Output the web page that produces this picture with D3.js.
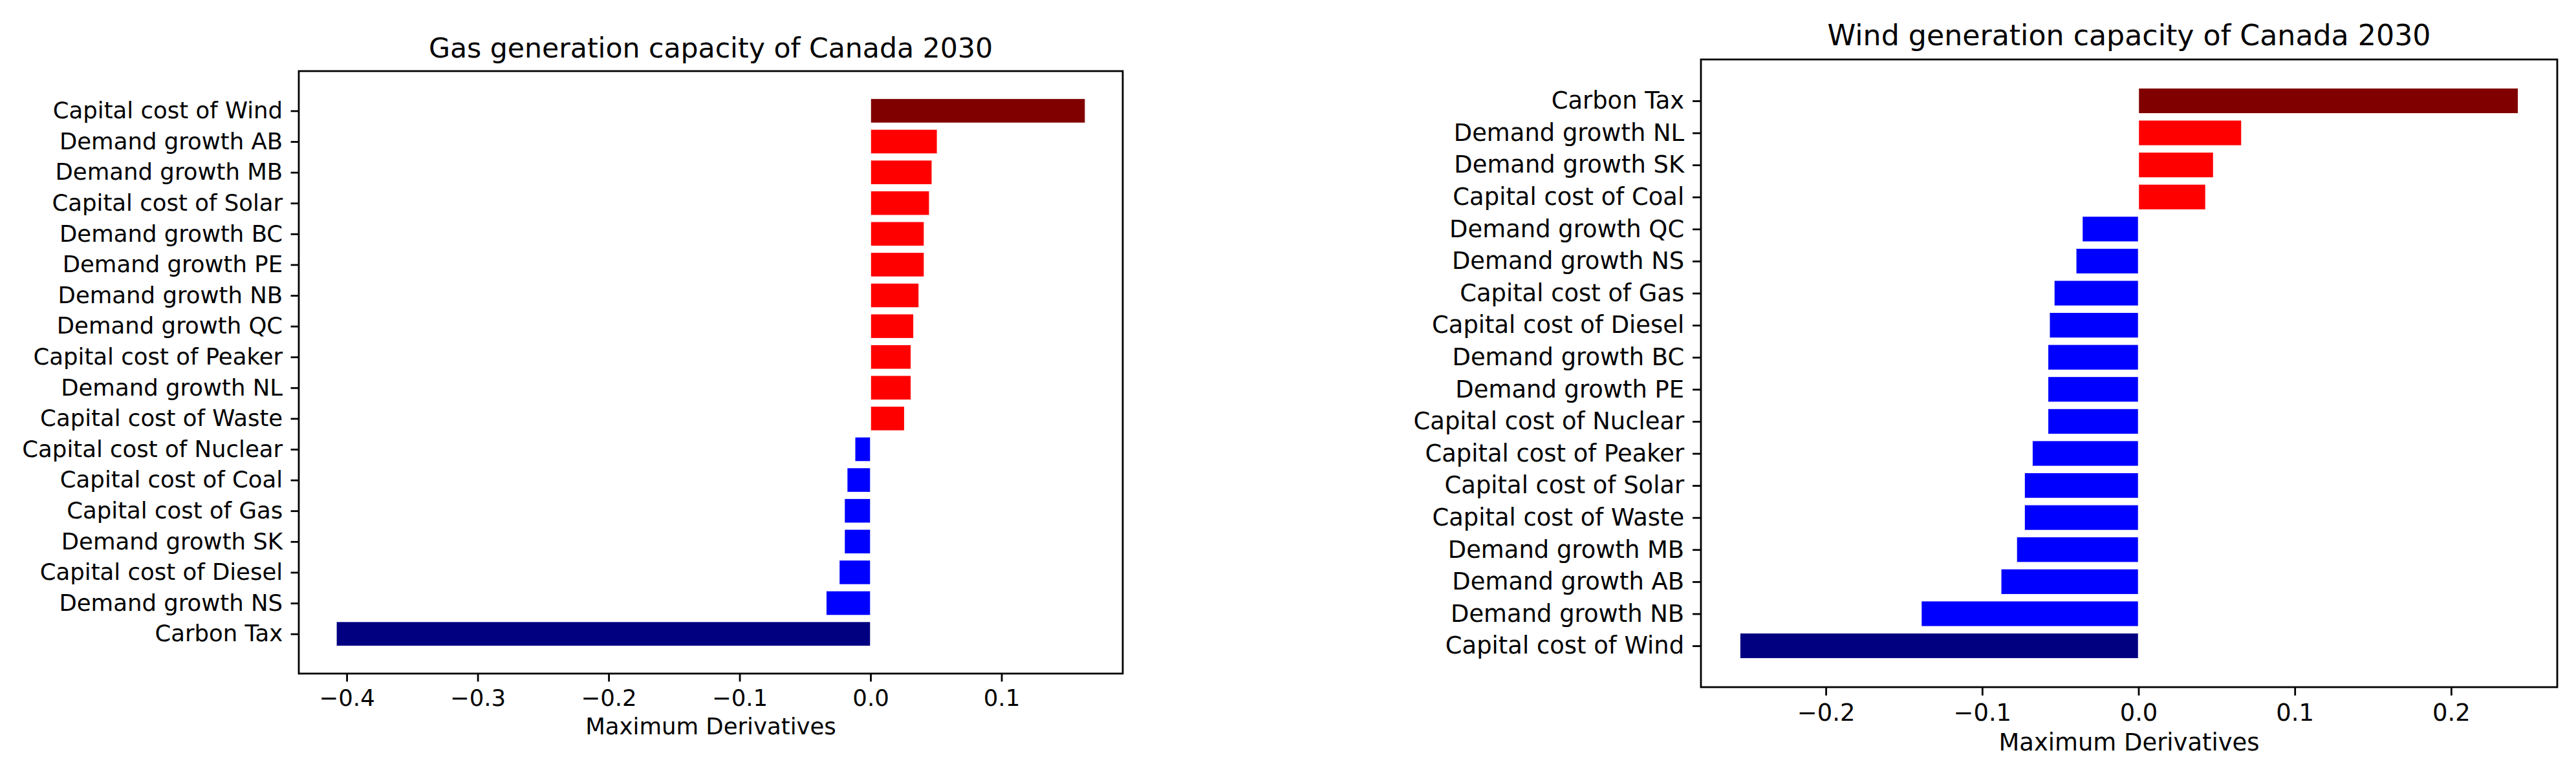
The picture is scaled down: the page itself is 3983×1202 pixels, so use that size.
<!DOCTYPE html>
<html>
<head>
<meta charset="utf-8">
<script src="https://cdn.jsdelivr.net/npm/d3@7/dist/d3.min.js"></script>
<style>
  body { margin: 0; background: #fff; }
  text { font-family: "DejaVu Sans", sans-serif; fill: #000; }
</style>
</head>
<body>
<svg id="chart" width="3983" height="1202"></svg>
<script>
// Gas chart, listed top to bottom
const gasCategories = [
    "Capital cost of Wind", "Demand growth AB", "Demand growth MB", "Capital cost of Solar",
    "Demand growth BC", "Demand growth PE", "Demand growth NB", "Demand growth QC",
    "Capital cost of Peaker", "Demand growth NL", "Capital cost of Waste", "Capital cost of Nuclear",
    "Capital cost of Coal", "Capital cost of Gas", "Demand growth SK", "Capital cost of Diesel",
    "Demand growth NS", "Carbon Tax"
];
const gasValues = [
    0.164, 0.051, 0.047, 0.045, 0.041, 0.041, 0.037, 0.033, 0.031, 0.031, 0.026,
    -0.012, -0.018, -0.020, -0.020, -0.024, -0.034, -0.408
];
const gasTicks = [-0.4, -0.3, -0.2, -0.1, 0.0, 0.1];

// Wind chart, listed top to bottom
const windCategories = [
    "Carbon Tax", "Demand growth NL", "Demand growth SK", "Capital cost of Coal",
    "Demand growth QC", "Demand growth NS", "Capital cost of Gas", "Capital cost of Diesel",
    "Demand growth BC", "Demand growth PE", "Capital cost of Nuclear", "Capital cost of Peaker",
    "Capital cost of Solar", "Capital cost of Waste", "Demand growth MB", "Demand growth AB",
    "Demand growth NB", "Capital cost of Wind"
];
const windValues = [
    0.243, 0.066, 0.048, 0.043, -0.036, -0.040, -0.054, -0.057, -0.058, -0.058, -0.058,
    -0.068, -0.073, -0.073, -0.078, -0.088, -0.139, -0.255
];
const windTicks = [-0.2, -0.1, 0.0, 0.1, 0.2];

const svg = d3.select("#chart");

/**
 * Draws one horizontal bar chart in matplotlib style.
 * The largest positive bar is maroon, the largest negative navy, the rest red / blue.
 */
const drawChart = (cfg) => {
    const { categories, values, ticks, title, left, top, width, height, fs } = cfg;
    const n = categories.length;
    const g = svg.append("g");
    const tickLen = fs * 0.35;

    // x limits with matplotlib's 5% margin
    const xmin = Math.min(0, d3.min(values));
    const xmax = Math.max(0, d3.max(values));
    const xm = (xmax - xmin) * 0.05;
    const x = d3.scaleLinear().domain([xmin - xm, xmax + xm]).range([left, left + width]);

    // bar i (from the bottom) sits at position i
    const lo = -0.4, hi = n - 1 + 0.4, ym = (hi - lo) * 0.05;
    const y = d3.scaleLinear().domain([lo - ym, hi + ym]).range([top + height, top]);

    const maxV = d3.max(values), minV = d3.min(values);
    const colorOf = (v) => v === maxV ? "#800000" : v === minV ? "#000080" : v > 0 ? "#ff0000" : "#0000ff";

    const data = categories.map((c, k) => ({ label: c, value: values[k], pos: n - 1 - k }));

    g.append("g")
        .selectAll("rect")
        .data(data)
        .enter()
        .append("rect")
        .attr("x", d => x(Math.min(0, d.value)))
        .attr("width", d => Math.abs(x(d.value) - x(0)))
        .attr("y", d => y(d.pos + 0.4))
        .attr("height", d => y(d.pos - 0.4) - y(d.pos + 0.4))
        .attr("fill", d => colorOf(d.value))
        .attr("stroke", "#fff")
        .attr("stroke-width", 1.5);

    // frame
    g.append("rect")
        .attr("x", left).attr("y", top)
        .attr("width", width).attr("height", height)
        .attr("fill", "none")
        .attr("stroke", "#000")
        .attr("stroke-width", 2.8);

    // x axis
    const xAxis = d3.axisBottom(x)
        .tickValues(ticks)
        .tickFormat(d3.format(".1f"))
        .tickSize(tickLen)
        .tickPadding(tickLen);
    const xg = g.append("g")
        .attr("transform", `translate(0,${top + height})`)
        .call(xAxis);
    xg.select(".domain").remove();
    xg.selectAll("line").attr("stroke", "#000").attr("stroke-width", 2.8);
    xg.selectAll("text")
        .attr("font-size", fs)
        .attr("font-family", "DejaVu Sans")
        .attr("fill", "#000");

    // y axis
    const yAxis = d3.axisLeft(y)
        .tickValues(data.map(d => d.pos))
        .tickFormat(p => categories[n - 1 - p])
        .tickSize(tickLen)
        .tickPadding(tickLen);
    const yg = g.append("g")
        .attr("transform", `translate(${left},0)`)
        .call(yAxis);
    yg.select(".domain").remove();
    yg.selectAll("line").attr("stroke", "#000").attr("stroke-width", 2.8);
    yg.selectAll("text")
        .attr("font-size", fs)
        .attr("font-family", "DejaVu Sans")
        .attr("fill", "#000");

    // title and x label
    g.append("text")
        .attr("x", left + width / 2)
        .attr("y", top - fs * 0.6)
        .attr("text-anchor", "middle")
        .attr("font-size", fs * 1.2)
        .text(title);

    g.append("text")
        .attr("x", left + width / 2)
        .attr("y", top + height + fs * 2.65)
        .attr("text-anchor", "middle")
        .attr("font-size", fs)
        .text("Maximum Derivatives");
};

drawChart({
    categories: gasCategories, values: gasValues, ticks: gasTicks,
    title: "Gas generation capacity of Canada 2030",
    left: 462, top: 110, width: 1274, height: 932, fs: 35.5
});

drawChart({
    categories: windCategories, values: windValues, ticks: windTicks,
    title: "Wind generation capacity of Canada 2030",
    left: 2630, top: 92, width: 1324, height: 971, fs: 36.9
});
</script>
</body>
</html>
